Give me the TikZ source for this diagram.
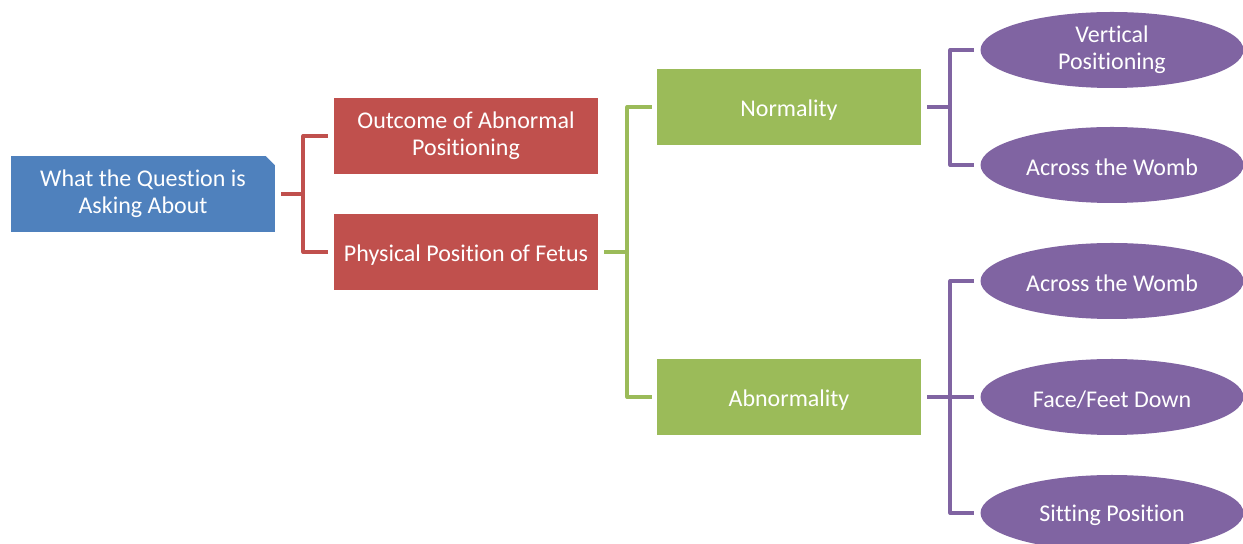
\documentclass[tikz,border=0pt]{standalone}
\usepackage{fontspec}
\setmainfont{Carlito}[Ligatures={NoCommon}]
\usepackage{xcolor}
\definecolor{q_blue}{HTML}{4F81BD}
\definecolor{q_red}{HTML}{C0504D}
\definecolor{q_green}{HTML}{9BBB59}
\definecolor{q_purple}{HTML}{8064A2}
\usetikzlibrary{shapes.geometric,positioning,calc}
\tikzset{BOX/.style={rectangle,minimum width=132pt,minimum height=38pt,inner sep=0pt,align=center,text=white,font=\fontsize{12}{13.5}\selectfont,execute at begin node={\rule{0pt}{11pt}}}}
\tikzset{TOPIC/.style={BOX,fill=q_blue,execute at begin node={\rule{0pt}{15pt}}}}
\tikzset{ASPECT/.style={BOX,fill=q_red}}
\tikzset{CASE/.style={BOX,fill=q_green}}
\tikzset{POSITION/.style={BOX,ellipse,minimum width=131.5pt,fill=q_purple}}
\tikzset{LINK/.style={line width=2pt,line join=round}}

\begin{document}
\begin{tikzpicture}[x=0.5pt,y=-0.5pt]
\useasboundingbox (0,0) rectangle (1243,544);

\node[TOPIC] (n_question) at (143,194) {What the Question is\\Asking About};
\fill[white] ($(n_question.north east)+(-10,0)$) -- (n_question.north east) -- ($(n_question.north east)+(0,10)$) -- cycle;

\node[ASPECT] (n_outcome) at (466,136) {Outcome of Abnormal\\Positioning};
\node[ASPECT] (n_physical) at (466,252) {Physical Position of Fetus};

\node[CASE] (n_normal) at (789,107) {Normality};
\node[CASE] (n_abnormal) at (789,397) {Abnormality};

\node[POSITION] (n_vertical) at (1112,50) {Vertical\\Positioning};
\node[POSITION] (n_across_n) at (1112,165) {Across the Womb};
\node[POSITION] (n_across_a) at (1112,281) {Across the Womb};
\node[POSITION] (n_face) at (1112,397) {Face/Feet Down};
\node[POSITION] (n_sitting) at (1112,513) {Sitting Position};

% question -> aspects
\coordinate (c_question_out) at ($(n_question.east)+(6,0)$);
\coordinate (c_red_spine) at ($(c_question_out)+(22,0)$);
\draw[LINK,q_red] (c_question_out) -- (c_red_spine);
\draw[LINK,q_red] ($(n_outcome.west)+(-6,0)$) -| (c_red_spine) |- ($(n_physical.west)+(-6,0)$);

% physical position -> cases
\coordinate (c_physical_out) at ($(n_physical.east)+(6,0)$);
\coordinate (c_green_spine) at ($(c_physical_out)+(23,0)$);
\draw[LINK,q_green] (c_physical_out) -- (c_green_spine);
\draw[LINK,q_green] ($(n_normal.west)+(-5,0)$) -| (c_green_spine) |- ($(n_abnormal.west)+(-5,0)$);

% normality -> positions
\coordinate (c_normal_out) at ($(n_normal.east)+(6,0)$);
\coordinate (c_normal_spine) at ($(c_normal_out)+(23,0)$);
\draw[LINK,q_purple] (c_normal_out) -- (c_normal_spine);
\draw[LINK,q_purple] ($(n_vertical.west)+(-6,0)$) -| (c_normal_spine) |- ($(n_across_n.west)+(-6,0)$);

% abnormality -> positions
\coordinate (c_abnormal_out) at ($(n_abnormal.east)+(6,0)$);
\coordinate (c_abnormal_spine) at ($(c_abnormal_out)+(23,0)$);
\draw[LINK,q_purple] (c_abnormal_out) -- ($(n_face.west)+(-6,0)$);
\draw[LINK,q_purple] ($(n_across_a.west)+(-6,0)$) -| (c_abnormal_spine) |- ($(n_sitting.west)+(-6,0)$);

\end{tikzpicture}
\end{document}
